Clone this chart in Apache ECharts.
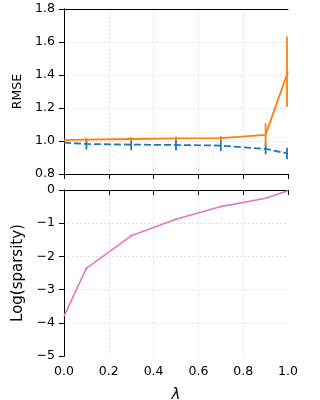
<!DOCTYPE html>
<html>
<head>
<meta charset="utf-8">
<script src="https://cdn.jsdelivr.net/npm/echarts@6/dist/echarts.min.js"></script>
<style>
  html, body { margin: 0; padding: 0; background: #fff; }
  #chart { width: 320px; height: 400px; }
</style>
</head>
<body>
<div id="chart"></div>
<script>
// data
var lambdas   = [0, 0.1, 0.3, 0.5, 0.7, 0.9, 1.0];
var rmseOrange = [1.005, 1.008, 1.012, 1.016, 1.018, 1.037, 1.421];
var errOrange  = [0, 0.012, 0.012, 0.012, 0.012, 0.07, 0.213];
var rmseBlue   = [0.99, 0.982, 0.978, 0.976, 0.972, 0.952, 0.924];
var errBlue    = [0, 0.033, 0.033, 0.033, 0.033, 0.033, 0.035];
var logSparsity = [-3.80, -2.36, -1.38, -0.88, -0.50, -0.25, -0.02];
var errSparsity = [0, 0.04, 0.04, 0.03, 0.02, 0.02, 0];

var FONT = 'DejaVu Sans';

function pairs(ys) {
    return lambdas.map(function (x, i) { return [x, ys[i]]; });
}
function bars(ys, es) {
    return lambdas.map(function (x, i) { return [x, ys[i] - es[i], ys[i] + es[i]]; });
}
function errRender(color) {
    return function (params, api) {
        var x  = api.value(0);
        var p1 = api.coord([x, api.value(1)]);
        var p2 = api.coord([x, api.value(2)]);
        // keep the bar on the plot side of the frame, as matplotlib's clip leaves it
        var px = Math.min(p1[0], params.coordSys.x + params.coordSys.width - 1);
        return {
            type : 'line',
            shape: {x1: px, y1: p1[1], x2: px, y2: p2[1]},
            style: {stroke: color, lineWidth: 1.8}
        };
    };
}

var gridLine = {show: true, showMinLine: false, showMaxLine: false,
                lineStyle: {color: '#e2e2e2', type: [2, 2], width: 1}};
var tickStyle = {show: true, inside: false, length: 5, lineStyle: {color: '#000', width: 1}};
var axLine = {show: true, lineStyle: {color: '#000', width: 1}};

// plain frame axes for the top and right spines
function frameX(g) {
    return {type: 'value', gridIndex: g, position: 'top', min: 0, max: 1,
            axisLine: axLine, axisTick: {show: false}, axisLabel: {show: false}, splitLine: {show: false}};
}
function frameY(g, lo, hi) {
    return {type: 'value', gridIndex: g, position: 'right', min: lo, max: hi,
            axisLine: axLine, axisTick: {show: false}, axisLabel: {show: false}, splitLine: {show: false}};
}

var myChart = echarts.init(document.getElementById('chart'));
var option = {
    animation: false,
    grid: [
        {left: 64, top: 9, width: 224, height: 165, containLabel: false, outerBoundsMode: 'none'},
        {left: 64, top: 190, width: 224, height: 166, containLabel: false, outerBoundsMode: 'none'}
    ],
    xAxis: [
        {
            type: 'value', gridIndex: 0, position: 'bottom', min: 0, max: 1, interval: 0.2,
            axisLine: axLine, axisTick: tickStyle, splitLine: gridLine,
            axisLabel: {show: false}
        },
        {
            type: 'value', gridIndex: 1, position: 'bottom', min: 0, max: 1, interval: 0.2,
            axisLine: axLine, axisTick: tickStyle, splitLine: gridLine,
            axisLabel: {
                color: '#000', fontFamily: FONT, fontSize: 12.5, margin: 9,
                formatter: function (v) { return v.toFixed(1); }
            },
            name: 'λ', nameLocation: 'middle', nameGap: 32,
            nameTextStyle: {color: '#000', fontFamily: FONT, fontSize: 15, fontStyle: 'italic'}
        },
        frameX(0),
        frameX(1)
    ],
    yAxis: [
        {
            type: 'value', gridIndex: 0, position: 'left', min: 0.8, max: 1.8, interval: 0.2,
            axisLine: axLine, axisTick: tickStyle, splitLine: gridLine,
            axisLabel: {
                color: '#000', fontFamily: FONT, fontSize: 12.5, margin: 9,
                formatter: function (v) { return v.toFixed(1); }
            },
            name: 'RMSE', nameLocation: 'middle', nameGap: 39, nameRotate: 90,
            nameTextStyle: {color: '#000', fontFamily: FONT, fontSize: 12.5}
        },
        {
            type: 'value', gridIndex: 1, position: 'left', min: -5, max: 0, interval: 1,
            axisLine: axLine, axisTick: tickStyle, splitLine: gridLine,
            axisLabel: {
                color: '#000', fontFamily: FONT, fontSize: 12.5, margin: 9,
                formatter: function (v) { return v < 0 ? '\u2212' + Math.abs(v) : String(v); }
            },
            name: 'Log(sparsity)', nameLocation: 'middle', nameGap: 33, nameRotate: 90,
            nameTextStyle: {color: '#000', fontFamily: FONT, fontSize: 15}
        },
        frameY(0, 0.8, 1.8),
        frameY(1, -5, 0)
    ],
    series: [
        {
            type: 'line', xAxisIndex: 0, yAxisIndex: 0, data: pairs(rmseBlue),
            symbol: 'none', z: 2,
            lineStyle: {color: '#1f77b4', width: 1.8, type: [7, 3]}
        },
        {
            type: 'custom', xAxisIndex: 0, yAxisIndex: 0, data: bars(rmseBlue, errBlue),
            renderItem: errRender('#1f77b4'), z: 2, clip: false
        },
        {
            type: 'line', xAxisIndex: 0, yAxisIndex: 0, data: pairs(rmseOrange),
            symbol: 'none', z: 3,
            lineStyle: {color: '#ff7f0e', width: 1.8}
        },
        {
            type: 'custom', xAxisIndex: 0, yAxisIndex: 0, data: bars(rmseOrange, errOrange),
            renderItem: errRender('#ff7f0e'), z: 3, clip: false
        },
        {
            type: 'line', xAxisIndex: 1, yAxisIndex: 1, data: pairs(logSparsity),
            symbol: 'none', z: 2,
            lineStyle: {color: '#e377c2', width: 1.6}
        },
        {
            type: 'custom', xAxisIndex: 1, yAxisIndex: 1, data: bars(logSparsity, errSparsity),
            renderItem: errRender('#e377c2'), z: 2, clip: false
        }
    ]
};

myChart.setOption(option);
</script>
</body>
</html>
